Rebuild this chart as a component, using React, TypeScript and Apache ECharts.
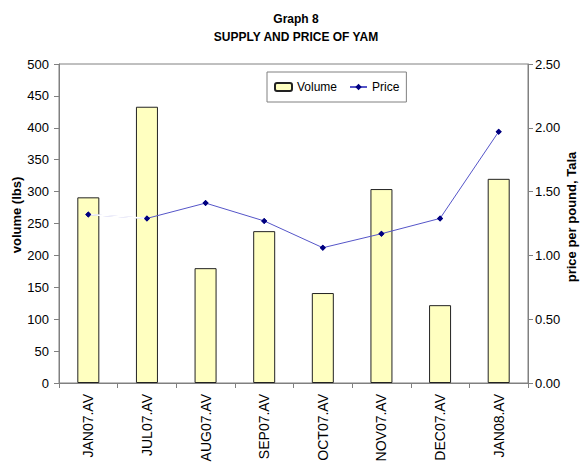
import React, { useEffect, useRef } from "react";
import * as echarts from "echarts";

const categories = ["JAN07.AV", "JUL07.AV", "AUG07.AV", "SEP07.AV", "OCT07.AV", "NOV07.AV", "DEC07.AV", "JAN08.AV"];
const volume = [291, 433, 180, 238, 141, 304, 122, 320];
const price = [1.32, 1.29, 1.41, 1.27, 1.06, 1.17, 1.29, 1.97];
const volumeTicks = { min: 0, max: 500, interval: 50 };
const priceTicks = { min: 0, max: 2.5, interval: 0.5 };
const leftAxisName = "volume (lbs)";
const rightAxisName = "price per pound, Tala";

const FONT = 'Arial, "Liberation Sans", sans-serif';

export default function App() {
  const ref = useRef<HTMLDivElement>(null);
  useEffect(() => {
    if (!ref.current) return;
    const chart = echarts.init(ref.current, undefined, { renderer: "svg" });
    const maskData = price.map((v, i) => (i < 2 ? v : null));
    chart.setOption({
      animation: false,
      backgroundColor: "#ffffff",
      textStyle: { fontFamily: FONT },
      title: {
        text: "Graph 8\nSUPPLY AND PRICE OF YAM",
        left: 296,
        top: 10,
        padding: 0,
        textAlign: "center",
        textStyle: { fontFamily: FONT, fontSize: 12, fontWeight: "bold", color: "#000", lineHeight: 18 },
      },
      legend: {
        data: ["Volume", "Price"],
        left: 267,
        top: 72,
        padding: [9, 7],
        itemWidth: 17,
        itemHeight: 8,
        itemGap: 12,
        borderColor: "#808080",
        borderWidth: 1,
        backgroundColor: "#fff",
        textStyle: { fontFamily: FONT, fontSize: 12, color: "#000" },
      },
      graphic: [
        {
          type: "text",
          x: 16,
          y: 215,
          rotation: Math.PI / 2,
          style: {
            text: leftAxisName,
            align: "center",
            verticalAlign: "middle",
            fill: "#000",
            font: 'bold 13px Arial, "Liberation Sans", sans-serif',
          },
        },
        {
          type: "text",
          x: 571,
          y: 217,
          rotation: Math.PI / 2,
          style: {
            text: rightAxisName,
            align: "center",
            verticalAlign: "middle",
            fill: "#000",
            font: 'bold 13px Arial, "Liberation Sans", sans-serif',
          },
        },
      ],
      grid: {
        left: 59,
        right: 54,
        top: 64,
        bottom: 84,
        containLabel: false,
        outerBoundsMode: "none",
        show: true,
        borderColor: "#808080",
        borderWidth: 1,
        backgroundColor: "transparent",
      },
      xAxis: {
        type: "category",
        data: categories,
        boundaryGap: true,
        axisLine: { lineStyle: { color: "#808080" } },
        axisTick: { show: true, length: 5, alignWithLabel: false, lineStyle: { color: "#808080" } },
        axisLabel: { rotate: 90, margin: 11, fontSize: 14, color: "#000", fontFamily: FONT, interval: 0 },
        splitLine: { show: false },
      },
      yAxis: [
        {
          type: "value",
          min: volumeTicks.min,
          max: volumeTicks.max,
          interval: volumeTicks.interval,
          axisLine: { show: true, lineStyle: { color: "#808080" } },
          axisTick: { show: true, length: 5, lineStyle: { color: "#808080" } },
          axisLabel: { margin: 10, fontSize: 13, color: "#000", fontFamily: FONT },
          splitLine: { show: false },
        },
        {
          type: "value",
          min: priceTicks.min,
          max: priceTicks.max,
          interval: priceTicks.interval,
          position: "right",
          axisLine: { show: true, lineStyle: { color: "#808080" } },
          axisTick: { show: true, length: 5, lineStyle: { color: "#808080" } },
          axisLabel: {
            margin: 7,
            fontSize: 13,
            color: "#000",
            fontFamily: FONT,
            formatter: (v: number) => v.toFixed(2),
          },
          splitLine: { show: false },
        },
      ],
      series: [
        {
          name: "Volume",
          type: "bar",
          data: volume,
          barWidth: 22,
          itemStyle: { color: "#FFFFC0", borderColor: "#222", borderWidth: 1 },
          z: 2,
        },
        {
          name: "Price",
          type: "line",
          yAxisIndex: 1,
          data: price,
          symbol: "diamond",
          symbolSize: 6,
          itemStyle: { color: "#000080" },
          lineStyle: { color: "#5555C8", width: 1 },
          z: 3,
        },
        {
          name: "PriceMask",
          type: "line",
          yAxisIndex: 1,
          data: maskData,
          showSymbol: false,
          silent: true,
          lineStyle: { color: "#ffffff", width: 1.6 },
          z: 4,
        },
        {
          name: "PriceMarkers",
          type: "line",
          yAxisIndex: 1,
          data: price,
          symbol: "diamond",
          symbolSize: 6,
          silent: true,
          itemStyle: { color: "#000080" },
          lineStyle: { width: 0, opacity: 0 },
          z: 5,
        },
      ],
    });
    return () => chart.dispose();
  }, []);
  return (
    <div
      ref={ref}
      style={{ position: "fixed", left: 0, top: 0, width: 582, height: 467, background: "#fff" }}
    />
  );
}
